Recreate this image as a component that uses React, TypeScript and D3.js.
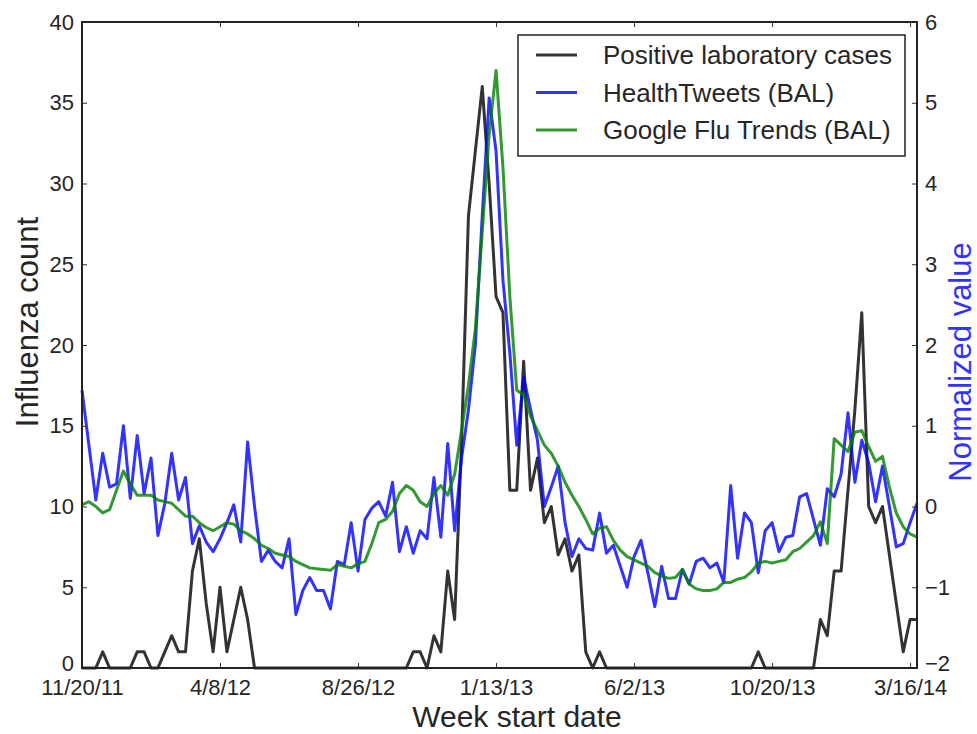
import React, { useEffect, useRef } from "react";
import * as d3 from "d3";

// weekly series, week 0 = 11/20/11, week 121 = 3/23/14
const labCases = [
  0, 0, 0, 1, 0, 0, 0, 0, 1, 1, 0, 0, 1, 2, 1, 1, 6, 8, 4, 1,
  5, 1, 3, 5, 3, 0, 0, 0, 0, 0, 0, 0, 0, 0, 0, 0, 0, 0, 0, 0,
  0, 0, 0, 0, 0, 0, 0, 0, 1, 1, 0, 2, 1, 6, 3, 14, 28, 32, 36, 30,
  23, 22, 11, 11, 19, 11, 13, 9, 10, 7, 8, 6, 7, 1, 0, 1, 0, 0, 0, 0,
  0, 0, 0, 0, 0, 0, 0, 0, 0, 0, 0, 0, 0, 0, 0, 0, 0, 0, 1, 0,
  0, 0, 0, 0, 0, 0, 0, 3, 2, 6, 6, 11, 16, 22, 10, 9, 10, 7, 4, 1,
  3, 3,
];

const healthTweets = [
  1.44, 0.76, 0.08, 0.66, 0.24, 0.28, 1.0, 0.1, 0.88, 0.16,
  0.6, -0.36, 0.04, 0.66, 0.08, 0.36, -0.46, -0.24, -0.44, -0.56,
  -0.4, -0.2, 0.02, -0.44, 0.8, 0.0, -0.68, -0.54, -0.68, -0.76,
  -0.4, -1.34, -1.04, -0.88, -1.04, -1.04, -1.27, -0.68, -0.72, -0.2,
  -0.8, -0.16, -0.02, 0.06, -0.12, 0.3, -0.56, -0.25, -0.58, -0.3,
  -0.4, 0.36, -0.38, 0.78, -0.3, 0.6, 1.2, 2.0, 3.6, 5.06,
  4.4, 2.8, 1.9, 0.76, 1.6, 1.2, 0.82, 0.0, 0.24, 0.5,
  -0.2, -0.62, -0.4, -0.52, -0.54, -0.08, -0.58, -0.48, -0.74, -1.0,
  -0.62, -0.42, -0.82, -1.24, -0.74, -1.14, -1.14, -0.78, -0.96, -0.68,
  -0.64, -0.76, -0.7, -0.94, 0.26, -0.64, -0.08, -0.2, -0.82, -0.3,
  -0.2, -0.56, -0.38, -0.36, 0.12, 0.16, -0.16, -0.48, 0.22, 0.12,
  0.4, 1.16, 0.3, 0.82, 0.54, 0.06, 0.5, 0.0, -0.5, -0.46,
  -0.2, 0.04,
];

const googleFlu = [
  0.02, 0.06, 0.0, -0.08, -0.04, 0.2, 0.44, 0.28, 0.14, 0.14,
  0.14, 0.08, 0.06, 0.04, -0.04, -0.12, -0.12, -0.2, -0.26, -0.3,
  -0.25, -0.2, -0.22, -0.3, -0.34, -0.4, -0.48, -0.52, -0.58, -0.6,
  -0.62, -0.68, -0.72, -0.76, -0.77, -0.78, -0.79, -0.72, -0.74, -0.76,
  -0.71, -0.68, -0.46, -0.2, -0.16, -0.06, 0.16, 0.26, 0.2, 0.06,
  0.0, 0.16, 0.26, 0.14, 0.4, 0.94, 1.5, 2.2, 3.4, 4.6,
  5.4, 4.2, 2.6, 1.44, 1.38, 1.12, 0.94, 0.76, 0.66, 0.5,
  0.3, 0.14, 0.0, -0.16, -0.34, -0.27, -0.25, -0.42, -0.54, -0.62,
  -0.66, -0.7, -0.74, -0.82, -0.86, -0.89, -0.88, -0.78, -0.96, -1.02,
  -1.04, -1.04, -1.02, -0.94, -0.94, -0.9, -0.88, -0.81, -0.7, -0.68,
  -0.7, -0.68, -0.66, -0.56, -0.52, -0.44, -0.36, -0.19, -0.46, 0.84,
  0.76, 0.68, 0.92, 0.94, 0.74, 0.56, 0.62, 0.24, -0.08, -0.25,
  -0.34, -0.38,
];

const tickWeeks = [0, 20, 40, 60, 80, 100, 120];
const tickLabels = ["11/20/11", "4/8/12", "8/26/12", "1/13/13", "6/2/13", "10/20/13", "3/16/14"];

const legendItems = [
  { name: "Positive laboratory cases", color: "#000000" },
  { name: "HealthTweets (BAL)", color: "#0000ff" },
  { name: "Google Flu Trends (BAL)", color: "#008000" },
];

export default function App() {
  const svgRef = useRef<SVGSVGElement>(null);

  useEffect(() => {
    const width = 977;
    const height = 734;
    const left = 82;
    const right = 917;
    const top = 22;
    const bottom = 668;
    const font = "'Liberation Sans', Arial, Helvetica, sans-serif";

    const svg = d3.select(svgRef.current)
      .attr("width", width)
      .attr("height", height)
      .style("font-family", font);

    svg.selectAll("*").remove();

    const x = d3.scaleLinear().domain([0, 121]).range([left, right]);
    const yLeft = d3.scaleLinear().domain([0, 40]).range([bottom, top]);
    const yRight = d3.scaleLinear().domain([-2, 6]).range([bottom, top]);

    svg.append("rect")
      .attr("width", width).attr("height", height).attr("fill", "#fff");

    // lines
    const plot = svg.append("g");
    const lineLeft = d3.line<number>().x((d, i) => x(i)).y(d => yLeft(d));
    const lineRight = d3.line<number>().x((d, i) => x(i)).y(d => yRight(d));

    const series = [
      { data: labCases, line: lineLeft, color: legendItems[0].color },
      { data: healthTweets, line: lineRight, color: legendItems[1].color },
      { data: googleFlu, line: lineRight, color: legendItems[2].color },
    ];

    series.forEach(s => {
      plot.append("path")
        .datum(s.data)
        .attr("d", s.line)
        .attr("fill", "none")
        .attr("stroke", s.color)
        .attr("stroke-opacity", 0.8)
        .attr("stroke-width", 3)
        .attr("stroke-linejoin", "round");
    });

    // axes, ticks point inward
    const styleAxis = (g: any) => {
      g.select(".domain").remove();
      g.selectAll(".tick line").attr("stroke", "#333").attr("stroke-width", 1);
      g.selectAll(".tick text")
        .attr("fill", "#262626")
        .style("font-size", "22px")
        .style("font-family", font);
    };

    svg.append("g")
      .attr("transform", `translate(0,${bottom})`)
      .call(d3.axisBottom(x).tickValues(tickWeeks)
        .tickFormat((d, i) => tickLabels[i]).tickSize(-5).tickSizeOuter(0).tickPadding(11))
      .call(styleAxis);

    svg.append("g")
      .attr("transform", `translate(0,${top})`)
      .call(d3.axisTop(x).tickValues(tickWeeks).tickFormat(() => "").tickSize(-5).tickSizeOuter(0))
      .call(styleAxis);

    const gLeft = svg.append("g")
      .attr("transform", `translate(${left},0)`)
      .call(d3.axisLeft(yLeft).ticks(8).tickSize(-5).tickSizeOuter(0).tickPadding(8))
      .call(styleAxis);

    const gRight = svg.append("g")
      .attr("transform", `translate(${right},0)`)
      .call(d3.axisRight(yRight).ticks(8).tickFormat(d3.format("d"))
        .tickSize(-5).tickSizeOuter(0).tickPadding(8))
      .call(styleAxis);
    gRight.selectAll(".tick text")
      .text((d: any) => (d < 0 ? "\u2212" + Math.abs(d) : String(d)));

    // lift the bottom-most labels a little so they clear the date labels
    gLeft.selectAll(".tick text").filter((d: any) => d === 0).attr("y", -5);
    gRight.selectAll(".tick text").filter((d: any) => d === -2).attr("y", -5);

    // frame
    svg.append("rect")
      .attr("x", left).attr("y", top)
      .attr("width", right - left).attr("height", bottom - top)
      .attr("fill", "none").attr("stroke", "#222").attr("stroke-width", 2);

    // axis titles
    svg.append("text")
      .attr("x", 517).attr("y", 727)
      .attr("text-anchor", "middle")
      .attr("fill", "#262626")
      .style("font-size", "30px")
      .text("Week start date");

    svg.append("text")
      .attr("transform", "translate(38,322) rotate(-90)")
      .attr("text-anchor", "middle")
      .attr("fill", "#262626")
      .style("font-size", "31px")
      .text("Influenza count");

    svg.append("text")
      .attr("transform", "translate(971,362) rotate(-90)")
      .attr("text-anchor", "middle")
      .attr("fill", "#3333ff")
      .style("font-size", "31px")
      .text("Normalized value");

    // legend
    const legend = svg.append("g");
    legend.append("rect")
      .attr("x", 518).attr("y", 35).attr("width", 387).attr("height", 121)
      .attr("fill", "#fff").attr("stroke", "#222").attr("stroke-width", 1.5);

    legendItems.forEach((item, i) => {
      const ly = 55 + i * 37.5;
      legend.append("line")
        .attr("x1", 536).attr("x2", 577).attr("y1", ly).attr("y2", ly)
        .attr("stroke", item.color).attr("stroke-opacity", 0.8).attr("stroke-width", 3);
      legend.append("text")
        .attr("x", 603).attr("y", ly).attr("dy", "0.35em")
        .attr("fill", "#262626")
        .style("font-size", "26px")
        .text(item.name);
    });

    return () => {
      d3.select(svgRef.current).selectAll("*").remove();
    };
  }, []);

  return (
    <div style={{ position: "absolute", left: 0, top: 0 }}>
      <svg ref={svgRef} />
    </div>
  );
}
